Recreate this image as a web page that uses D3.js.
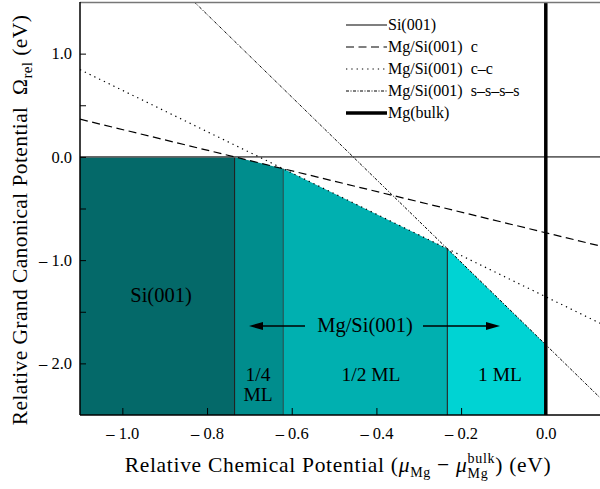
<!DOCTYPE html>
<html>
<head>
<meta charset="utf-8">
<script src="https://cdn.jsdelivr.net/npm/d3@7"></script>
<style>
  body { margin: 0; background: #fff; }
  text { font-family: "Liberation Serif", "Times New Roman", serif; white-space: pre; }
</style>
</head>
<body>
<div id="chart"></div>
<script>
// ---- data ----
const muDomain = [-1.1, 0.128];
const omegaDomain = [-2.5, 1.5];
const xTickValues = [-1.0, -0.8, -0.6, -0.4, -0.2, 0.0];
const yTickValues = [-2.0, -1.5, -1.0, -0.5, 0.0, 0.5, 1.0];

// lines as [mu, omega] end points
const siLine = [[-1.1, 0], [0.128, 0]];
const cLine = [[-1.1, 0.365], [0.128, -0.863]];
const ccLine = [[-1.1, 0.845], [0.128, -1.611]];
const ssssLine = [[-0.83, 1.5], [0.128, -2.332]];
const bulkLine = [[0, -2.5], [0, 1.5]];
const legendNames = ["Si(001)", "Mg/Si(001)  c", "Mg/Si(001)  c\u2013c", "Mg/Si(001)  s\u2013s\u2013s\u2013s", "Mg(bulk)"];

// stable phases: boundaries in mu and lower envelope omega at each boundary
const phaseNames = ["Si(001)", "1/4 ML", "1/2 ML", "1 ML"];
const phaseColors = ["#046969", "#008d8d", "#00b0b0", "#00d3d3"];
const phaseBounds = [-1.1, -0.735, -0.62, -0.2325, 0];
const envelopeOmega = [0, 0, -0.115, -0.89, -1.82];

// ---- chart ----
const W = 600, H = 489;
const margin = { left: 80, top: 2, right: 0, bottom: 74 };

const svg = d3.select("#chart").append("svg")
  .attr("width", W).attr("height", H);

const x = d3.scaleLinear().domain(muDomain).range([margin.left, W - margin.right]);
const y = d3.scaleLinear().domain(omegaDomain).range([H - margin.bottom, margin.top]);

svg.append("clipPath").attr("id", "plotClip")
  .append("rect")
  .attr("x", x.range()[0]).attr("y", y.range()[1])
  .attr("width", x.range()[1] - x.range()[0])
  .attr("height", y.range()[0] - y.range()[1]);

const plot = svg.append("g").attr("clip-path", "url(#plotClip)");

// filled phase regions
const regions = phaseNames.map((name, i) => [
  [phaseBounds[i], omegaDomain[0]],
  [phaseBounds[i], envelopeOmega[i]],
  [phaseBounds[i + 1], envelopeOmega[i + 1]],
  [phaseBounds[i + 1], omegaDomain[0]]
]);
plot.selectAll(".region")
  .data(regions)
  .join("polygon")
  .attr("class", "region")
  .attr("points", d => d.map(p => [x(p[0]), y(p[1])].join(",")).join(" "))
  .attr("fill", (d, i) => phaseColors[i]);

// boundaries between phases
plot.selectAll(".bound")
  .data(phaseBounds.slice(1, 4))
  .join("line")
  .attr("class", "bound")
  .attr("x1", d => x(d)).attr("x2", d => x(d))
  .attr("y1", y(omegaDomain[0]))
  .attr("y2", (d, i) => y(envelopeOmega[i + 1]))
  .attr("stroke", (d, i) => i === 1 ? "#1f4f4f" : "#222")
  .attr("stroke-width", 1.1);

const line = d3.line().x(d => x(d[0])).y(d => y(d[1]));
const styles = [
  { data: siLine, stroke: "#666", width: 1.6, dash: null },
  { data: cLine, stroke: "#000", width: 1.2, dash: "8,4.5" },
  { data: ccLine, stroke: "#000", width: 1.2, dash: "1.3,4" },
  { data: ssssLine, stroke: "#000", width: 1, dash: "3,1.5,1,1.5" },
  { data: bulkLine, stroke: "#000", width: 3.5, dash: null }
];
plot.selectAll(".curve")
  .data(styles)
  .join("path")
  .attr("class", "curve")
  .attr("d", d => line(d.data))
  .attr("fill", "none")
  .attr("stroke", d => d.stroke)
  .attr("stroke-width", d => d.width)
  .attr("stroke-dasharray", d => d.dash);

// axes
const fmt = v => (v < 0 ? "\u2013 " : "") + d3.format(".1f")(Math.abs(v));
const xAxis = svg.append("g")
  .attr("transform", `translate(0,${y.range()[0]})`)
  .call(d3.axisBottom(x).tickValues(xTickValues).tickSizeInner(-7).tickSizeOuter(0)
    .tickPadding(12).tickFormat(fmt));
const yAxis = svg.append("g")
  .attr("transform", `translate(${x.range()[0]},0)`)
  .call(d3.axisLeft(y).tickValues(yTickValues).tickSizeInner(-6).tickSizeOuter(0)
    .tickPadding(8).tickFormat(v => Number.isInteger(v) ? fmt(v) : ""));
[xAxis, yAxis].forEach(a => {
  a.select(".domain").remove();
  a.selectAll("text").attr("font-size", 16.5).attr("font-family", null).attr("fill", "#000");
  a.selectAll(".tick line").attr("stroke", "#000").attr("stroke-width", 1);
});

// frame
svg.append("line").attr("x1", x.range()[0]).attr("x2", x.range()[1])
  .attr("y1", y.range()[1] + 0.5).attr("y2", y.range()[1] + 0.5)
  .attr("stroke", "#777").attr("stroke-width", 1.5);
svg.append("line").attr("x1", x.range()[0]).attr("x2", x.range()[0])
  .attr("y1", y.range()[1]).attr("y2", y.range()[0])
  .attr("stroke", "#000").attr("stroke-width", 1.5);
svg.append("line").attr("x1", x.range()[0]).attr("x2", x.range()[1])
  .attr("y1", y.range()[0]).attr("y2", y.range()[0])
  .attr("stroke", "#000").attr("stroke-width", 1.5);

// legend
const legend = svg.append("g").attr("transform", "translate(346,25)");
const rows = legend.selectAll(".row")
  .data(styles)
  .join("g")
  .attr("class", "row")
  .attr("transform", (d, i) => `translate(0,${i * 22})`);
rows.append("line")
  .attr("x1", 0).attr("x2", 41)
  .attr("stroke", d => d.stroke === "#666" ? "#000" : d.stroke)
  .attr("stroke-width", d => d.stroke === "#666" ? 1.2 : d.width)
  .attr("stroke-dasharray", d => d.dash);
rows.append("text")
  .attr("x", 42).attr("dy", "0.33em")
  .attr("font-size", 16)
  .text((d, i) => legendNames[i]);

// region labels
const labels = svg.append("g").attr("font-size", 19.5).attr("text-anchor", "middle");
labels.append("text").attr("x", 161).attr("y", 302).attr("font-size", 20.5).text(phaseNames[0]);
labels.append("text").attr("x", 258).attr("y", 381).text("1/4");
labels.append("text").attr("x", 258).attr("y", 401).text("ML");
labels.append("text").attr("x", 371).attr("y", 381).text(phaseNames[2]);
labels.append("text").attr("x", 500).attr("y", 381).text(phaseNames[3]);
labels.append("text").attr("x", 365).attr("y", 332).attr("font-size", 20.5).text("Mg/Si(001)");

// arrows
const arrowY = 326;
[[305, 249], [423, 500]].forEach(([from, tip]) => {
  const dir = tip > from ? 1 : -1;
  svg.append("line").attr("x1", from).attr("x2", tip - dir * 10)
    .attr("y1", arrowY).attr("y2", arrowY)
    .attr("stroke", "#000").attr("stroke-width", 1.3);
  svg.append("path")
    .attr("d", `M${tip},${arrowY} L${tip - dir * 14},${arrowY - 4} L${tip - dir * 14},${arrowY + 4} Z`)
    .attr("fill", "#000");
});

// rich text helper (sub/superscripts)
function measure(t, size, ls) {
  const tmp = svg.append("text").attr("font-size", size)
    .attr("letter-spacing", ls || 0).text(t);
  const w = tmp.node().getComputedTextLength();
  tmp.remove();
  return w;
}
function richText(sel, pieces) {
  let base = 0;
  pieces.forEach(p => {
    const ts = sel.append("tspan").text(p.t).attr("font-size", p.size)
      .attr("dy", (p.shift || 0) - base);
    base = p.shift || 0;
    if (p.italic) ts.attr("font-style", "italic");
    if (p.dx) ts.attr("dx", p.dx);
  });
}

// x title
const ls = 0.7;
const bulkW = measure("bulk", 14, ls), mgW = measure("Mg", 14, ls);
const xTitle = svg.append("text").attr("x", 338).attr("y", 472)
  .attr("text-anchor", "middle").attr("font-size", 21.5).attr("letter-spacing", ls);
richText(xTitle, [
  { t: "Relative Chemical Potential (", size: 21.5 },
  { t: "\u03bc", size: 21.5, italic: true },
  { t: "Mg", size: 14, shift: 5 },
  { t: " \u2212 ", size: 21.5, shift: 0 },
  { t: "\u03bc", size: 21.5, italic: true },
  { t: "bulk", size: 14, shift: -9 },
  { t: "Mg", size: 14, shift: 6, dx: -bulkW },
  { t: ") (eV)", size: 21.5, shift: 0, dx: bulkW - mgW }
]);

// y title
const yTitle = svg.append("text")
  .attr("transform", "translate(27,220) rotate(-90)")
  .attr("text-anchor", "middle").attr("font-size", 21.5).attr("letter-spacing", 0.4);
richText(yTitle, [
  { t: "Relative Grand Canonical Potential  \u03a9", size: 21.5 },
  { t: "rel", size: 15, shift: 5 },
  { t: " (eV)", size: 21.5, shift: 0 }
]);
</script>
</body>
</html>
